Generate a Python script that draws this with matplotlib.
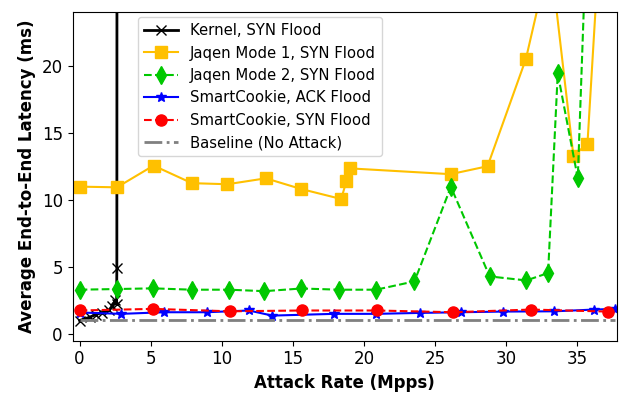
import matplotlib
matplotlib.use("Agg")
import matplotlib.pyplot as plt

# Kernel, SYN Flood (goes off the chart right after ~2.6 Mpps)
kernel_x = [0, 0.7, 1.15, 1.6, 2.05, 2.3, 2.5, 2.6, 2.62, 2.64, 2.67]
kernel_y = [1.0, 1.25, 1.45, 1.6, 1.75, 2.1, 2.5, 2.2, 4.9, 60, 120]

# Jaqen Mode 1, SYN Flood
jq1_x = [0, 2.63, 5.2, 7.9, 10.4, 13.1, 15.6, 18.4, 18.77, 19.03, 26.1, 28.7, 31.4, 33.1, 34.74, 35.73, 36.8]
jq1_y = [10.98, 10.93, 12.55, 11.24, 11.16, 11.6, 10.8, 10.06, 11.37, 12.34, 11.91, 12.5, 20.5, 28.3, 13.28, 14.18, 33]

# Jaqen Mode 2, SYN Flood
jq2_x = [0, 2.63, 5.17, 7.91, 10.52, 13.0, 15.6, 18.27, 20.86, 23.56, 26.12, 28.85, 31.43, 32.96, 33.64, 35.05, 36.2]
jq2_y = [3.3, 3.35, 3.4, 3.3, 3.3, 3.19, 3.39, 3.3, 3.3, 3.92, 10.96, 4.29, 3.99, 4.54, 19.42, 11.61, 46]

# SmartCookie, ACK Flood
sc_ack_x = [0, 2.94, 5.94, 8.93, 11.91, 13.55, 17.9, 20.86, 23.96, 26.83, 29.8, 33.4, 36.2, 37.7]
sc_ack_y = [1.6, 1.5, 1.62, 1.62, 1.75, 1.37, 1.5, 1.5, 1.57, 1.62, 1.67, 1.69, 1.82, 1.87]

# SmartCookie, SYN Flood
sc_syn_x = [0, 5.17, 10.57, 15.62, 20.9, 26.3, 31.76, 37.16]
sc_syn_y = [1.75, 1.87, 1.69, 1.75, 1.75, 1.62, 1.82, 1.67]

# Baseline (No Attack)
base_x = [0, 37.7]
base_y = [1.07, 1.07]

fig, ax = plt.subplots(figsize=(6.25, 3.98), dpi=100)
fig.subplots_adjust(left=0.116, right=0.987, top=0.970, bottom=0.144)

ax.plot(kernel_x, kernel_y, color="black", marker="x", ms=7, lw=2, label="Kernel, SYN Flood")
ax.plot(jq1_x, jq1_y, color="#FFC000", marker="s", ms=8, lw=1.5, label="Jaqen Mode 1, SYN Flood")
ax.plot(jq2_x, jq2_y, color="#00C800", marker="d", ms=9, lw=1.5, ls="--", label="Jaqen Mode 2, SYN Flood")
ax.plot(sc_ack_x, sc_ack_y, color="blue", marker="*", ms=7, lw=1.5, label="SmartCookie, ACK Flood")
ax.plot(sc_syn_x, sc_syn_y, color="red", marker="o", ms=8, lw=1.5, ls="--", label="SmartCookie, SYN Flood")
ax.plot(base_x, base_y, color="gray", lw=2, ls="-.", label="Baseline (No Attack)")

ax.set_xlim(-0.5, 37.8)
ax.set_ylim(-0.5, 24)
ax.set_xticks([0, 5, 10, 15, 20, 25, 30, 35])
ax.set_yticks([0, 5, 10, 15, 20])
ax.tick_params(labelsize=12)

ax.set_xlabel("Attack Rate (Mpps)", fontsize=12, fontweight="bold")
ax.set_ylabel("Average End-to-End Latency (ms)", fontsize=12, fontweight="bold")

ax.legend(loc="upper left", bbox_to_anchor=(0.12, 0.984), borderaxespad=0,
          fontsize=10.7, handlelength=2.3)

plt.savefig("out.png")
